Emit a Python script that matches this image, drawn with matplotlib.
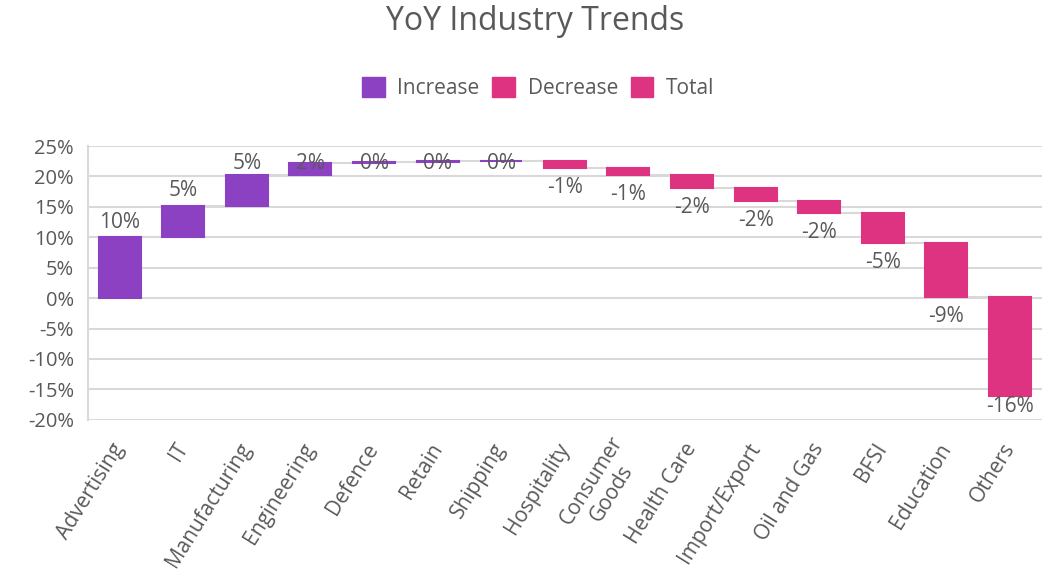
import numpy as np
import matplotlib.pyplot as plt
from matplotlib.patches import Patch

plt.rcParams['font.family'] = ['Open Sans', 'DejaVu Sans']

# waterfall data (% change per industry)
categories = ['Advertising', 'IT', 'Manufacturing', 'Engineering', 'Defence', 'Retain',
              'Shipping', 'Hospitality', 'Consumer\nGoods', 'Health Care', 'Import/Export',
              'Oil and Gas', 'BFSI', 'Education', 'Others']
changes = [10, 5.2, 5, 2, 0.2, 0.1, 0.1, -1.2, -1.2, -2.1, -2.1, -2.0, -5.0, -8.8, -16.3]

purple = '#8B41C1'
pink = '#DE3380'
text_col = '#595959'

changes = np.array(changes)
ends = np.cumsum(changes)
starts = ends - changes
colors = [purple if v >= 0 else pink for v in changes]
x = np.arange(len(categories))

fig = plt.figure(figsize=(10.45, 5.75), dpi=100)
ax = fig.add_axes([0.084, 0.270, 0.913, 0.476])

ax.bar(x, changes, bottom=starts, width=0.66, color=colors, edgecolor=colors,
       linewidth=1.5, zorder=3)

# connector lines
for i in range(len(x) - 1):
    ax.plot([x[i] + 0.33, x[i + 1] - 0.33], [ends[i], ends[i]], color='#d9d9d9',
            lw=1.5, zorder=2)

# value labels (kept inside the plot area like Excel does)
for i, v in enumerate(changes):
    lab = f"{v:.0f}%"
    if lab == '-0%':
        lab = '0%'
    if v >= 0:
        y = min(ends[i] + 2.5, 22.2)
    else:
        y = max(ends[i] - 3.2, -17.9)
    ax.text(x[i], y, lab, ha='center', va='center', fontsize=15, color=text_col, zorder=4)

ax.set_xlim(-0.5, len(x) - 0.5)
ax.set_ylim(-20, 25)
ax.set_yticks(np.arange(-20, 26, 5))
ax.set_yticklabels([f"{t}%" for t in range(-20, 26, 5)], fontsize=14.5, color=text_col)
ax.set_xticks(x)
ax.set_xticklabels(categories, rotation=58, ha='right', va='center', rotation_mode='anchor',
                   multialignment='center', fontsize=15, color=text_col)
ax.tick_params(axis='x', length=0, pad=18)
ax.tick_params(axis='y', length=0, pad=10)
ax.grid(axis='y', color='#d9d9d9', lw=1.5, zorder=0)
for s in ['top', 'right', 'bottom']:
    ax.spines[s].set_visible(False)
ax.spines['left'].set_color('#d9d9d9')
ax.spines['left'].set_linewidth(1.5)

fig.text(0.512, 0.962, 'YoY Industry Trends', ha='center', va='center', fontsize=23,
         color=text_col)

handles = [Patch(color=purple, label='Increase'), Patch(color=pink, label='Decrease'),
           Patch(color=pink, label='Total')]
fig.legend(handles=handles, loc='center', bbox_to_anchor=(0.515, 0.847), ncol=3,
           frameon=False, fontsize=15, handlelength=1.1, handleheight=1.1,
           columnspacing=0.6, handletextpad=0.6, labelcolor=text_col)

fig.savefig('out.png', dpi=100)
